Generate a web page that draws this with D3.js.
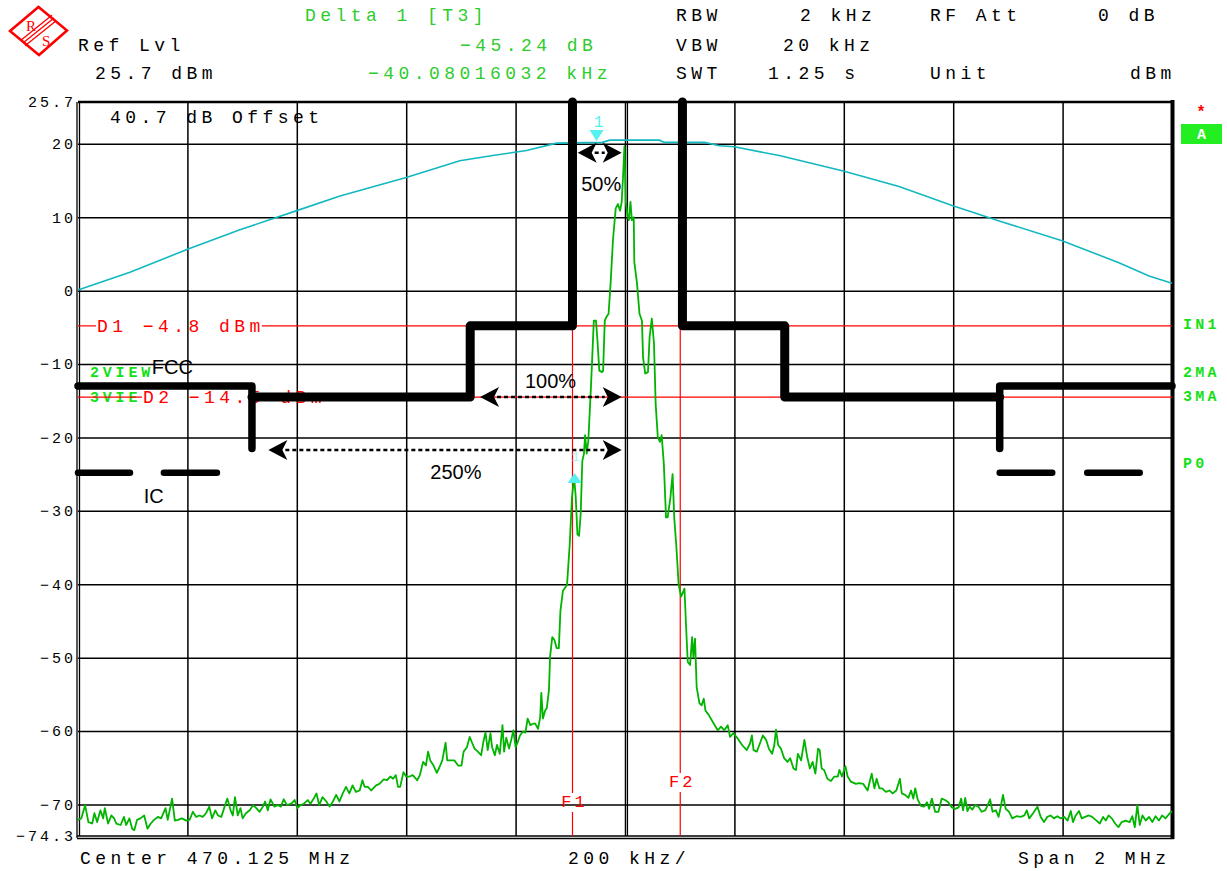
<!DOCTYPE html>
<html><head><meta charset="utf-8">
<script src="https://cdn.jsdelivr.net/npm/d3@7"></script>
<style>body{margin:0;background:#fff}svg{display:block}</style>
</head><body>
<svg id="c" width="1227" height="871"></svg>
<script>
// ---------- DATA ----------
const yTickValues = [25.7, 20, 10, 0, -10, -20, -30, -40, -50, -60, -70, -74.3];
const gridLevels = [20, 10, 0, -10, -20, -30, -40, -50, -60, -70];
const gridFreqs = [-800, -600, -400, -200, 0, 200, 400, 600, 800];   // kHz offset from centre

// green measured trace: [kHz offset, dBm]
const greenTrace = [
[-1000,-72.1],[-994,-71.9],[-987,-70.1],[-981,-72.4],[-974,-72.6],[-970,-71.2],[-965,-72.4],[-959,-70.8],[-954,-71.9],[-951,-70.5],
[-945,-72.6],[-939,-71.5],[-934,-71.9],[-930,-72.6],[-922,-72.8],[-916,-71.7],[-912,-72.8],[-906,-71.9],[-901,-73.3],[-897,-73.5],
[-892,-72.1],[-886,-71.9],[-879,-71.5],[-873,-73.3],[-867,-72.6],[-861,-72.1],[-854,-71.7],[-848,-71.9],[-840,-70.5],[-836,-72.1],
[-828,-69.2],[-823,-72.2],[-817,-72.1],[-810,-71.9],[-802,-72.2],[-796,-72.1],[-790,-71.0],[-784,-71.7],[-778,-71.5],[-772,-71.7],
[-766,-71.2],[-760,-70.3],[-755,-71.9],[-749,-70.8],[-744,-71.5],[-738,-71.7],[-732,-70.3],[-727,-69.2],[-721,-70.8],[-717,-71.5],
[-713,-69.0],[-708,-71.5],[-703,-70.5],[-699,-71.9],[-693,-71.2],[-686,-70.8],[-680,-70.1],[-674,-70.5],[-668,-71.0],[-662,-70.3],
[-658,-69.6],[-653,-70.8],[-648,-69.3],[-641,-70.3],[-635,-70.1],[-629,-70.3],[-624,-69.3],[-618,-70.1],[-610,-69.9],[-604,-69.4],
[-599,-70.5],[-593,-70.1],[-587,-69.9],[-580,-69.4],[-575,-69.9],[-569,-69.2],[-564,-68.5],[-559,-70.1],[-553,-69.0],[-546,-69.6],
[-540,-70.3],[-534,-69.6],[-528,-68.7],[-522,-69.6],[-516,-68.5],[-510,-67.6],[-504,-68.5],[-498,-67.4],[-492,-68.3],
[-485,-68.1],[-480,-66.7],[-476,-67.6],[-470,-67.6],[-464,-68.1],[-455,-67.4],[-449,-67.2],[-441,-66.6],[-435,-66.7],[-429,-66.2],
[-424,-66.5],[-419,-66.0],[-415,-67.6],[-411,-67.6],[-405,-65.6],[-400,-66.2],[-394,-66.2],[-388,-66.0],[-380,-66.7],[-375,-66.0],
[-369,-64.2],[-364,-64.7],[-360,-62.8],[-356,-64.0],[-350,-64.7],[-344,-65.7],[-339,-64.9],[-334,-64.0],[-328,-61.6],[-325,-64.0],
[-321,-64.0],[-312,-64.0],[-305,-64.7],[-299,-64.7],[-295,-62.8],[-289,-62.2],[-284,-60.8],[-279,-61.7],[-275,-62.4],[-269,-62.8],
[-263,-63.3],[-259,-61.5],[-255,-60.2],[-251,-62.6],[-246,-60.3],[-243,-62.2],[-238,-63.3],[-234,-61.9],[-229,-63.1],[-224,-59.2],
[-221,-62.8],[-217,-60.9],[-212,-62.4],[-208,-61.2],[-204,-59.9],[-200,-62.2],[-196,-61.5],[-192,-60.6],[-187,-60.1],[-182,-60.2],
[-178,-58.3],[-173,-59.2],[-168,-59.0],[-164,-59.0],[-159,-59.7],[-155,-58.1],[-153,-54.8],[-150,-58.3],[-146,-57.2],[-143,-56.9],
[-139,-54.4],[-137,-49.9],[-133,-47.2],[-129,-47.6],[-125,-48.7],[-121,-48.7],
[-118,-43.6],[-113.5,-40.9],[-106,-40.1],[-101,-34.5],[-97,-28.2],[-93,-25.4],[-90,-28.2],[-87,-33.2],[-84,-33.4],[-81,-30.4],
[-78,-23.2],[-75,-22.2],[-73,-19.7],[-70,-22.2],[-67,-20.4],[-62,-12.7],[-57,-4.1],[-53,-4.1],[-50,-7.2],[-47,-10.9],
[-42,-11.1],[-40,-10.9],[-37,-4.1],[-34,-3.6],[-30,-3.15],[-26,1.4],[-22,6.9],[-17,11.2],[-13,11.8],[-9,10.9],
[-6,12.1],[-3,16.4],[-1,19.7],[1.5,12.1],[4,10.5],[7,9.6],[10,12.1],[12.5,9.6],[16,10.0],[17,3.9],
[22,0.95],[26.5,-3.15],[31,-4.1],[33,-9.1],[37,-11.3],[42,-11.1],[45,-6.3],[49,-3.8],[53,-7.2],[56,-15.4],
[60,-19.95],[64,-20.6],[67,-19.7],[71,-23.6],[75,-30.9],[78,-30.9],[83,-28.2],[87,-25.0],[90,-30.9],[94,-35.0],[98,-40.0],
[102.6,-41.7],[108.7,-40.6],[111.7,-45.8],[114.7,-50.6],[119,-51.0],[122.7,-47.2],[125,-49.9],[128,-47.4],[131,-54.0],[136,-56.2],
[140,-56.5],[144,-55.6],[147,-57.2],[153,-57.8],[160,-58.7],[169.5,-59.9],[175.6,-59.4],[181.7,-59.9],[187.8,-59.2],[192,-60.8],
[198,-60.3],[206,-61.0],[214,-61.9],[222.5,-62.6],[228.6,-61.7],[232,-60.6],[235,-62.6],[241,-62.8],[245.6,-61.9],[252,-60.6],
[258,-61.2],[263,-62.4],[269,-63.1],[273,-61.9],[276,-59.8],[280,-61.9],[285,-62.4],[291,-63.7],[297,-64.2],[302,-63.7],
[308,-65.1],[312.6,-65.3],[316,-63.1],[322,-64.0],[328,-61.2],[333,-63.5],[338,-65.1],[343,-64.2],[348,-65.8],[353,-62.4],
[356,-62.6],[359.5,-65.1],[364,-65.3],[370,-66.5],[376.5,-66.8],[382.6,-66.2],[389,-66.2],[392,-65.3],[396.6,-66.2],[403,-64.8],
[407,-66.2],[413,-66.9],[422,-67.2],[428,-67.1],[435.6,-67.2],[443.5,-68.1],[448,-66.7],[451,-65.8],[456,-67.8],[460,-66.5],
[465,-67.8],[470,-67.8],[477,-68.3],[484,-68.1],[489,-68.5],[496,-68.1],[502.6,-66.5],[506,-68.5],[512,-68.7],[518,-69.1],
[523,-68.1],[527,-69.2],[530.6,-67.8],[535,-69.3],[541,-70.2],[547,-70.3],[552,-69.7],[556,-70.6],[561,-69.2],[567,-71.0],
[573,-71.0],[579,-69.2],[585,-69.4],[591,-69.7],[597.5,-70.4],[604,-70.6],[610,-70.4],[614.6,-69.2],[618,-70.8],[622,-69.1],
[626,-70.9],[630,-70.3],[635,-70.7],[640,-70.1],[646,-70.3],[652,-71.0],[658.5,-70.8],[663,-70.1],[667.5,-69.3],[672,-71.0],
[678,-70.8],[683,-71.7],[687,-70.3],[691,-68.7],[696,-70.6],[702,-71.0],[708,-71.9],[715.6,-71.6],[723.5,-71.7],[730,-71.5],
[734.5,-70.8],[739,-71.9],[746,-71.2],[754,-70.3],[760,-71.7],[766,-72.4],[772,-71.7],[778,-71.5],[784,-71.9],[790.5,-71.6],
[796.6,-71.9],[803,-71.7],[809,-72.2],[815,-70.9],[819,-72.4],[824,-71.5],[830,-70.9],[835,-71.9],[841,-71.7],[848,-71.5],
[854,-71.7],[862,-72.2],[868,-72.6],[874,-71.7],[879,-72.2],[884,-71.5],[890,-71.9],[896,-72.6],[902,-73.1],[908,-72.4],
[915,-72.2],[922.6,-72.4],[927.5,-71.6],[932,-73.1],[936.6,-70.1],[941,-72.8],[946,-71.5],[952,-72.2],[958,-71.7],[964,-72.4],
[970,-71.6],[976,-72.2],[982,-71.5],[988,-71.9],[996,-71.2],[1000,-70.9]
];

// cyan max-hold trace: [kHz offset, dBm]
const cyanTrace = [
[-1000,0.1],[-905,2.5],[-801,5.6],[-704,8.3],[-600,10.9],[-521,12.9],[-400,15.4],[-302,17.7],[-242,18.4],[-180,19.1],
[-125,20.1],[-41,20.2],[-28,20.5],[63,20.5],[72,20.2],[145,20.2],[173,19.75],[200,19.6],[282,18.4],[399,16.3],
[501,14.2],[598,11.6],[684,9.5],[799,6.8],[903,3.8],[958,2.0],[1000,1.0]
];

// FCC mask polylines [kHz, dBm]
const fccLeftOuter  = [[-1000,-13],[-682,-13],[-682,-21.5]];
const fccLeftInner  = [[-682,-14.5],[-283,-14.5],[-283,-4.8],[-96,-4.8],[-96,25.7]];
const fccRightInner = [[105,25.7],[105,-4.8],[292,-4.8],[292,-14.5],[685,-14.5]];
const fccRightOuter = [[685,-21.5],[685,-13],[1000,-13]];
// IC mask dashes [kHz start, kHz end], level
const icDashes = [[-1000,-905],[-843,-746],[685,781],[845,941]];
const icLevel = -24.8;

// display lines
const d1Level = -4.8, d2Level = -14.5;
const f1Freq = -96, f2Freq = 101;

// markers
const marker1 = {f: -52, level: 20.4};
const deltaMarker = {f: -92.08, level: 20.4 - 45.24};

// bandwidth arrows: [from kHz, to kHz, level, label]
const bwArrows = [
  {f0: -86.5, f1: -6, level: 18.8, label: "50%", lf: -80, ll: 13.6},
  {f0: -265, f1: -6, level: -14.5, label: "100%", lf: -183, ll: -13.3},
  {f0: -652, f1: -6, level: -21.7, label: "250%", lf: -356, ll: -25.6}
];
const maskLabels = [
  {t: "FCC", f: -865, level: -11.4},
  {t: "IC", f: -880, level: -28.9}
];

// header texts
const headerRows = [
  [{t:"Delta 1 [T3]", x:305, g:1}, {t:"RBW", x:676}, {t:"2 kHz", x:800}, {t:"RF Att", x:930}, {t:"0 dB", x:1098}],
  [{t:"Ref Lvl", x:78}, {t:"\u221245.24 dB", x:460, g:1}, {t:"VBW", x:676}, {t:"20 kHz", x:783}],
  [{t:"25.7 dBm", x:95}, {t:"\u221240.08016032 kHz", x:368, g:1}, {t:"SWT", x:676}, {t:"1.25 s", x:768}, {t:"Unit", x:930}, {t:"dBm", x:1130}]
];
const headerBaselines = [20.5, 50.5, 79];
const footerTexts = [{t:"Center 470.125 MHz", x:80}, {t:"200 kHz/", x:568}, {t:"Span 2 MHz", x:1018}];
const rightLabels = [{t:"IN1", y:329}, {t:"2MA", y:377}, {t:"3MA", y:401}, {t:"P0", y:468}];

// ---------- LAYOUT ----------
const X0 = 78, X1 = 1172, Y0 = 102, Y1 = 836;
const MONO = "'Liberation Mono','DejaVu Sans Mono',monospace";
const SANS = "'Liberation Sans',Arial,sans-serif";
const GREEN_TXT = "#2ecc2e", BRIGHT = "#14e014", RED = "#ff0000";

const svg = d3.select("#c");
svg.append("rect").attr("width",1227).attr("height",871).attr("fill","#fff");

const x = d3.scaleLinear().domain([-1000, 1000]).range([X0, X1]);
const y = d3.scaleLinear().domain([-74.3, 25.7]).range([Y1, Y0]);

function mono(g, t, px, py, o = {}) {
  return g.append("text").attr("x", px).attr("y", py).text(t)
    .attr("font-family", MONO).attr("font-size", o.size || 18)
    .attr("letter-spacing", o.ls !== undefined ? o.ls : 4.45)
    .attr("font-weight", o.bold ? "bold" : "normal")
    .attr("fill", o.fill || "#000").attr("text-anchor", o.anchor || "start");
}

// grid
const gridH = svg.append("g").attr("transform", `translate(${X0},0)`)
  .call(d3.axisLeft(y).tickValues(gridLevels).tickSize(-(X1 - X0)).tickFormat(""));
const gridV = svg.append("g").attr("transform", `translate(0,${Y1})`)
  .call(d3.axisBottom(x).tickValues(gridFreqs).tickSize(-(Y1 - Y0)).tickFormat(""));
[gridH, gridV].forEach(g => {
  g.select(".domain").remove();
  g.selectAll("line").attr("stroke", "#000").attr("stroke-width", 1.5);
});
// doubled centre line
svg.append("line").attr("x1", x(0) + 2.5).attr("x2", x(0) + 2.5).attr("y1", Y0).attr("y2", Y1)
  .attr("stroke", "#000").attr("stroke-width", 1.2);

// y labels
const yAx = svg.append("g").attr("transform", `translate(${X0},0)`)
  .call(d3.axisLeft(y).tickValues(yTickValues).tickSize(0)
    .tickFormat(d => (d < 0 ? "\u2212" : "") + Math.abs(d)));
yAx.select(".domain").remove();
yAx.selectAll("text").attr("x", -2).attr("dy", "0.32em")
  .attr("font-family", MONO).attr("font-size", 15).attr("letter-spacing", 3).attr("fill", "#000");

// frame
svg.append("line").attr("x1", X0).attr("x2", X1).attr("y1", Y0).attr("y2", Y0).attr("stroke", "#000").attr("stroke-width", 2.5);
svg.append("line").attr("x1", X0 - 1).attr("x2", X0 - 1).attr("y1", Y0).attr("y2", Y1 + 2).attr("stroke", "#000").attr("stroke-width", 1.3);
svg.append("line").attr("x1", X0 + 1.5).attr("x2", X0 + 1.5).attr("y1", Y0).attr("y2", Y1).attr("stroke", "#000").attr("stroke-width", 1.3);
svg.append("line").attr("x1", X0 - 1).attr("x2", X1 + 2).attr("y1", Y1).attr("y2", Y1).attr("stroke", "#000").attr("stroke-width", 1.5);
svg.append("line").attr("x1", X0 - 1).attr("x2", X1 + 2).attr("y1", Y1 + 2.5).attr("y2", Y1 + 2.5).attr("stroke", "#000").attr("stroke-width", 1.5);
svg.append("line").attr("x1", X1 + 0.5).attr("x2", X1 + 0.5).attr("y1", Y0 - 2).attr("y2", Y1 + 3).attr("stroke", "#000").attr("stroke-width", 4);

// left green labels
mono(svg, "2VIEW", 90, 377, {size: 15, ls: 3.8, bold: 1, fill: BRIGHT});
mono(svg, "3VIE", 90, 402, {size: 15, ls: 3.8, bold: 1, fill: BRIGHT});

// display lines with labels
function displayLine(level, label, lx) {
  const t = mono(svg, label, lx, y(level) + 6, {fill: RED});
  const w = t.node().getComputedTextLength();
  svg.append("line").attr("x1", X0).attr("x2", lx - 1).attr("y1", y(level)).attr("y2", y(level)).attr("stroke", RED).attr("stroke-width", 1.2);
  svg.append("line").attr("x1", lx + w - 3).attr("x2", X1).attr("y1", y(level)).attr("y2", y(level)).attr("stroke", RED).attr("stroke-width", 1.2);
}
displayLine(d1Level, "D1 \u22124.8 dBm", 97);
displayLine(d2Level, "D2 \u221214.5 dBm", 143);

// frequency lines
function freqLine(f, label, ly) {
  const px = x(f);
  svg.append("line").attr("x1", px).attr("x2", px).attr("y1", y(d1Level)).attr("y2", ly - 14).attr("stroke", RED).attr("stroke-width", 1.2);
  svg.append("line").attr("x1", px).attr("x2", px).attr("y1", ly + 5).attr("y2", Y1).attr("stroke", RED).attr("stroke-width", 1.2);
  mono(svg, label, px + 2, ly, {fill: RED, size: 17, ls: 3, anchor: "middle"});
}
freqLine(f1Freq, "F1", 807);
freqLine(f2Freq, "F2", 787);

// traces
const line = d3.line().x(d => x(d[0])).y(d => y(d[1]));
svg.append("path").datum(cyanTrace).attr("d", line).attr("fill", "none").attr("stroke", "#12b8c0").attr("stroke-width", 1.6);
svg.append("path").datum(greenTrace).attr("d", line).attr("fill", "none").attr("stroke", "#00b400").attr("stroke-width", 1.8).attr("stroke-linejoin", "round");

// markers
{
  const px = x(marker1.f), py = y(marker1.level);
  svg.append("path").attr("d", `M${px - 7},${py - 11}L${px + 7},${py - 11}L${px},${py}Z`).attr("fill", "#55f0f0");
  mono(svg, "1", px + 2, py - 14, {size: 16, ls: 0, fill: "#55f0f0", anchor: "middle"});
  const qx = x(deltaMarker.f), qy = y(deltaMarker.level);
  svg.append("path").attr("d", `M${qx - 7},${qy + 10}L${qx + 7},${qy + 10}L${qx},${qy}Z`).attr("fill", "#55f0f0");
  mono(svg, "1", qx + 1, qy - 12, {size: 13, ls: 0, fill: "#9ff4f4", anchor: "middle"});
}

// masks
const maskLine = d3.line().x(d => x(d[0])).y(d => y(d[1]));
[fccLeftOuter, fccLeftInner, fccRightInner, fccRightOuter].forEach((m, i) => {
  svg.append("path").datum(m).attr("d", maskLine).attr("fill", "none").attr("stroke", "#000")
    .attr("stroke-width", (i === 1 || i === 2) ? 9 : 7.5).attr("stroke-linejoin", "round").attr("stroke-linecap", "round");
});
icDashes.forEach(d => {
  svg.append("line").attr("x1", x(d[0])).attr("x2", x(d[1])).attr("y1", y(icLevel)).attr("y2", y(icLevel))
    .attr("stroke", "#000").attr("stroke-width", 6.5).attr("stroke-linecap", "round");
});
maskLabels.forEach(l => {
  svg.append("text").attr("x", x(l.f)).attr("y", y(l.level)).text(l.t)
    .attr("font-family", SANS).attr("font-size", 20).attr("fill", "#000");
});

// bandwidth arrows
bwArrows.forEach(a => {
  const xa = x(a.f0), xb = x(a.f1), py = y(a.level), hl = 19, hh = 10;
  svg.append("line").attr("x1", xa + hl - 2).attr("x2", xb - hl + 2).attr("y1", py).attr("y2", py)
    .attr("stroke", "#000").attr("stroke-width", 2.5).attr("stroke-dasharray", "4,3");
  svg.append("path").attr("d", `M${xa},${py}L${xa + hl},${py - hh}L${xa + hl - 5},${py}L${xa + hl},${py + hh}Z`).attr("fill", "#000");
  svg.append("path").attr("d", `M${xb},${py}L${xb - hl},${py - hh}L${xb - hl + 5},${py}L${xb - hl},${py + hh}Z`).attr("fill", "#000");
  svg.append("text").attr("x", x(a.lf)).attr("y", y(a.ll)).text(a.label)
    .attr("font-family", SANS).attr("font-size", 20).attr("fill", "#000");
});

// texts
mono(svg, "40.7 dB Offset", 110, 123);
headerRows.forEach((row, i) => row.forEach(h => mono(svg, h.t, h.x, headerBaselines[i], {fill: h.g ? GREEN_TXT : "#000"})));
footerTexts.forEach(f => mono(svg, f.t, f.x, 864));

// right side labels
rightLabels.forEach(r => mono(svg, r.t, 1183, r.y, {size: 15, ls: 3.2, bold: 1, fill: BRIGHT}));
svg.append("rect").attr("x", 1181).attr("y", 124).attr("width", 41).attr("height", 20).attr("fill", "#22ee22");
mono(svg, "A", 1201.5, 139, {size: 15, ls: 0, bold: 1, fill: "#fff", anchor: "middle"});
mono(svg, "*", 1201, 117, {size: 16, ls: 0, bold: 1, fill: RED, anchor: "middle"});

// R&S logo
{
  const lg = svg.append("g");
  lg.append("polygon").attr("points", "10,31 38.5,7 67,30.5 39,55").attr("fill", "#fff").attr("stroke", RED).attr("stroke-width", 2.5).attr("stroke-linejoin", "miter");
  [-3.5, 0, 3.5].forEach(o => {
    lg.append("line").attr("x1", 23 + o * 0.6).attr("y1", 43 + o * 0.8).attr("x2", 54 + o * 0.6).attr("y2", 18 + o * 0.8)
      .attr("stroke", RED).attr("stroke-width", 1.3);
  });
  lg.append("text").attr("x", 26).attr("y", 31).text("R").attr("font-family", "'Liberation Serif',serif").attr("font-size", 15).attr("fill", RED);
  lg.append("text").attr("x", 42).attr("y", 46).text("S").attr("font-family", "'Liberation Serif',serif").attr("font-size", 15).attr("fill", RED);
}
</script>
</body></html>
